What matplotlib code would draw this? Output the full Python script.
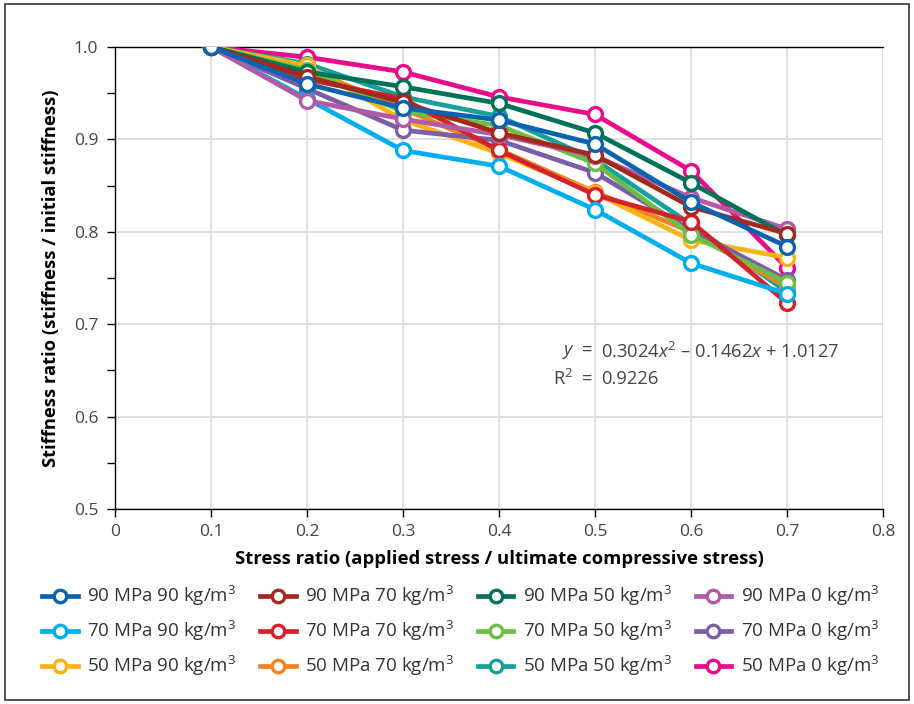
import matplotlib
matplotlib.use("Agg")
import matplotlib.pyplot as plt
from matplotlib.patches import Rectangle
from matplotlib.ticker import MultipleLocator, FormatStrFormatter

plt.rcParams['font.family'] = ['Open Sans', 'DejaVu Sans']
plt.rcParams['mathtext.fontset'] = 'custom'
plt.rcParams['mathtext.rm'] = 'Open Sans'
plt.rcParams['mathtext.it'] = 'Open Sans:italic'

stress_ratio = [0.1, 0.2, 0.3, 0.4, 0.5, 0.6, 0.7]

labels = [
    "90 MPa 90 kg/m$^3$", "70 MPa 90 kg/m$^3$", "50 MPa 90 kg/m$^3$",
    "90 MPa 70 kg/m$^3$", "70 MPa 70 kg/m$^3$", "50 MPa 70 kg/m$^3$",
    "90 MPa 50 kg/m$^3$", "70 MPa 50 kg/m$^3$", "50 MPa 50 kg/m$^3$",
    "90 MPa 0 kg/m$^3$", "70 MPa 0 kg/m$^3$", "50 MPa 0 kg/m$^3$",
]

mpa90_kg90 = [1.0, 0.960, 0.934, 0.921, 0.895, 0.832, 0.784]
mpa70_kg90 = [1.0, 0.944, 0.888, 0.871, 0.824, 0.766, 0.733]
mpa50_kg90 = [1.0, 0.980, 0.921, 0.885, 0.842, 0.791, 0.772]
mpa90_kg70 = [1.0, 0.968, 0.940, 0.907, 0.883, 0.827, 0.798]
mpa70_kg70 = [1.0, 0.965, 0.944, 0.888, 0.840, 0.811, 0.723]
mpa50_kg70 = [1.0, 0.977, 0.933, 0.889, 0.843, 0.800, 0.740]
mpa90_kg50 = [1.0, 0.973, 0.957, 0.939, 0.907, 0.853, 0.796]
mpa70_kg50 = [1.0, 0.975, 0.930, 0.915, 0.874, 0.797, 0.745]
mpa50_kg50 = [1.0, 0.982, 0.946, 0.925, 0.878, 0.808, 0.735]
mpa90_kg0 = [1.0, 0.942, 0.922, 0.905, 0.882, 0.837, 0.803]
mpa70_kg0 = [1.0, 0.955, 0.910, 0.899, 0.864, 0.802, 0.748]
mpa50_kg0 = [1.0, 0.989, 0.973, 0.946, 0.927, 0.866, 0.761]

series = [
    mpa90_kg90, mpa70_kg90, mpa50_kg90,
    mpa90_kg70, mpa70_kg70, mpa50_kg70,
    mpa90_kg50, mpa70_kg50, mpa50_kg50,
    mpa90_kg0, mpa70_kg0, mpa50_kg0,
]

colors = [
    "#0a63ae", "#00aeef", "#fbb217",
    "#a3281e", "#d2232a", "#f58220",
    "#00725a", "#6cbd45", "#17a19b",
    "#b25aa5", "#7b5ea8", "#ec0a8c",
]

# stacking: higher strength above lower, then by fibre content
stack = [12, 8, 4, 11, 7, 3, 10, 6, 2, 9, 5, 1]

fig = plt.figure(figsize=(9.14, 7.04), dpi=100)
ax = fig.add_axes([115 / 914, 1 - 509 / 704, (883 - 115) / 914, (509 - 47) / 704])

handles = []
for vals, lab, col, z in zip(series, labels, colors, stack):
    h, = ax.plot(stress_ratio, vals, color=col, lw=3.4, marker='o', ms=10,
                 mfc='white', mec=col, mew=2.4, label=lab, zorder=3 + z,
                 solid_joinstyle='round')
    handles.append(h)

ax.set_xlim(0, 0.8)
ax.set_ylim(0.5, 1.0)
ax.set_xticks([0, 0.1, 0.2, 0.3, 0.4, 0.5, 0.6, 0.7, 0.8])
ax.set_xticklabels(["0", "0.1", "0.2", "0.3", "0.4", "0.5", "0.6", "0.7", "0.8"])
ax.yaxis.set_major_locator(MultipleLocator(0.1))
ax.yaxis.set_minor_locator(MultipleLocator(0.05))
ax.yaxis.set_major_formatter(FormatStrFormatter('%.1f'))

ax.grid(True, which='major', color='#d9d9d9', lw=1.2, zorder=0)
ax.set_axisbelow(True)
for s in ['left', 'bottom', 'top']:
    ax.spines[s].set_color('black')
    ax.spines[s].set_linewidth(1.0)
ax.spines['right'].set_visible(False)

ax.tick_params(axis='both', which='both', direction='out', length=6, width=1,
               colors='black', labelcolor='#444444', labelsize=12.5)
ax.tick_params(axis='x', which='both', top=False)
ax.tick_params(axis='y', pad=6)
ax.tick_params(axis='x', pad=5)

ax.set_xlabel("Stress ratio (applied stress / ultimate compressive stress)",
              fontsize=13.3, fontweight='bold', color='black', labelpad=7)
ax.set_ylabel("Stiffness ratio (stiffness / initial stiffness)",
              fontsize=13.2, fontweight='bold', color='black', labelpad=10)

# regression annotation
ax.text(0.4985, 0.670, r"$y$  =", ha='right', va='center', fontsize=13.2, color='#444444')
ax.text(0.5065, 0.670, r"0.3024$x^2$ – 0.1462$x$ + 1.0127", ha='left', va='center',
        fontsize=13.2, color='#444444')
ax.text(0.4985, 0.641, r"R$^2$  =", ha='right', va='center', fontsize=13.2, color='#444444')
ax.text(0.5065, 0.641, "0.9226", ha='left', va='center', fontsize=13.2, color='#444444')

leg = fig.legend(handles=handles, loc='upper left', bbox_to_anchor=(0.028, 0.194),
                 ncol=4, frameon=False, fontsize=13.5, handlelength=1.9,
                 handletextpad=0.5, columnspacing=1.25, labelspacing=0.58,
                 labelcolor='#333333')
for lh in leg.legend_handles:
    lh.set_markersize(9)

fig.patches.append(Rectangle((5 / 914, 4 / 704), 904 / 914, 696 / 704,
                             transform=fig.transFigure, fill=False,
                             edgecolor='#333333', lw=1.2))

fig.savefig("out.png", dpi=100)
